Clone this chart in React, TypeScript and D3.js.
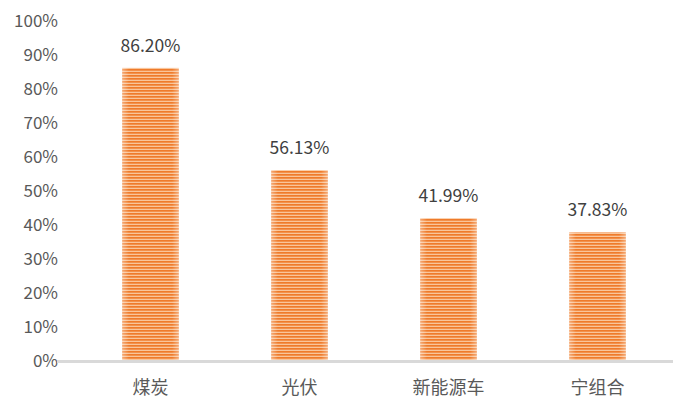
import * as d3 from "d3";
import { useEffect, useRef } from "react";

const categories = ["煤炭", "光伏", "新能源车", "宁组合"];
const values = [86.2, 56.13, 41.99, 37.83];
const yTicks = [0, 10, 20, 30, 40, 50, 60, 70, 80, 90, 100];

const W = 695;
const H = 417;
const y0 = 361;
const y1 = 21;
const font = "'Noto Sans CJK SC', 'Noto Sans', sans-serif";

export default function App() {
  const ref = useRef<SVGSVGElement>(null);

  useEffect(() => {
    const svg = d3.select(ref.current);
    svg.selectAll("*").remove();

    const defs = svg.append("defs");
    const pat = defs
      .append("pattern")
      .attr("id", "stripes")
      .attr("patternUnits", "userSpaceOnUse")
      .attr("width", 10)
      .attr("height", 3);
    pat.append("rect").attr("width", 10).attr("height", 3).attr("fill", "#f9c59a");
    pat.append("rect").attr("width", 10).attr("height", 1.7).attr("fill", "#ef7b2b");

    const edge = defs
      .append("linearGradient")
      .attr("id", "edge")
      .attr("x1", "0").attr("x2", "1").attr("y1", "0").attr("y2", "0");
    edge.append("stop").attr("offset", "0").attr("stop-color", "#fff").attr("stop-opacity", 0.35);
    edge.append("stop").attr("offset", "0.12").attr("stop-color", "#fff").attr("stop-opacity", 0);
    edge.append("stop").attr("offset", "0.88").attr("stop-color", "#fff").attr("stop-opacity", 0);
    edge.append("stop").attr("offset", "1").attr("stop-color", "#fff").attr("stop-opacity", 0.35);

    const x = d3.scaleBand().domain(categories).range([76, 672]).paddingInner(0.62).paddingOuter(0.31);
    const y = d3.scaleLinear().domain([0, 100]).range([y0, y1]);

    // y tick labels
    svg
      .append("g")
      .selectAll("text")
      .data(yTicks)
      .enter()
      .append("text")
      .attr("x", 58)
      .attr("y", (d) => y(d))
      .attr("dy", "0.35em")
      .attr("text-anchor", "end")
      .attr("fill", "#595959")
      .style("font-family", font)
      .style("font-size", "17px")
      .text((d) => d + "%");

    const bars = svg.append("g");
    categories.forEach((c, i) => {
      const bx = x(c) as number;
      const by = y(values[i]);
      const bh = y0 - by;
      bars.append("rect").attr("x", bx).attr("y", by).attr("width", x.bandwidth()).attr("height", bh).attr("fill", "url(#stripes)");
      bars.append("rect").attr("x", bx).attr("y", by).attr("width", x.bandwidth()).attr("height", bh).attr("fill", "url(#edge)");
      bars
        .append("text")
        .attr("x", bx + x.bandwidth() / 2)
        .attr("y", by - 16)
        .attr("text-anchor", "middle")
        .attr("fill", "#404040")
        .style("font-family", font)
        .style("font-size", "17.5px")
        .text(values[i].toFixed(2) + "%");
    });

    // x axis line
    svg.append("line").attr("x1", 57).attr("x2", 673).attr("y1", y0 + 0.5).attr("y2", y0 + 0.5).attr("stroke", "#d9d9d9").attr("stroke-width", 3);

    svg
      .append("g")
      .selectAll("text")
      .data(categories)
      .enter()
      .append("text")
      .attr("x", (d) => (x(d) as number) + x.bandwidth() / 2)
      .attr("y", 394)
      .attr("text-anchor", "middle")
      .attr("fill", "#595959")
      .style("font-family", font)
      .style("font-size", "18px")
      .text((d) => d);
  }, []);

  return (
    <div style={{ position: "absolute", left: 0, top: 0 }}>
      <svg ref={ref} width={W} height={H} style={{ display: "block", background: "#fff" }} />
    </div>
  );
}
